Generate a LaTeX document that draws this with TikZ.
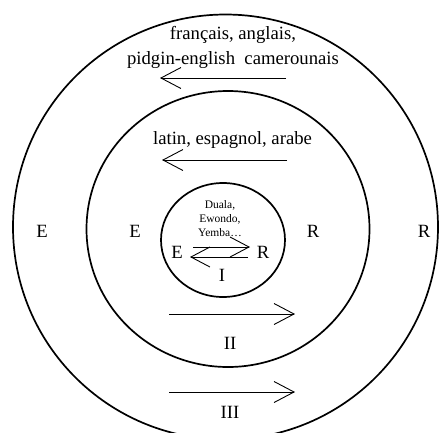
\documentclass[tikz,border=0pt]{standalone}
\usepackage{fontspec}
\setmainfont{Liberation Serif}
\usetikzlibrary{arrows.meta}

\begin{document}
\begin{tikzpicture}[
  x=1pt, y=-1pt,
  ring/.style  = {line width=1.7pt},
  lbl/.style   = {inner sep=0pt, anchor=base, align=center,
                  font=\fontsize{18.7}{24.5}\selectfont},
  lang/.style  = {inner sep=0pt, anchor=base, align=center,
                  font=\fontsize{11.5}{14}\selectfont},
  arr/.style   = {-{Straight Barb[length=20pt,width=21pt,line width=0.9pt]},
                  line width=0.9pt},
  small arr/.style = {-{Straight Barb[length=19pt,width=20pt,line width=0.9pt]},
                  line width=0.9pt}
]
\useasboundingbox (0,0) rectangle (439,432);
\clip (0,0) rectangle (439,432);
% the three rings
\draw[ring] (225.5,227) circle [radius=212.5pt];
\draw[ring] (228,229) ellipse [x radius=141.5pt, y radius=138pt];
\draw[ring] (223,240) ellipse [x radius=62pt, y radius=57pt];
% outer ring
\node[lbl] (lang3) at (233,64) {français, anglais,\\pidgin-english\ \ camerounais};
\coordinate (a3s) at (286,78);
\coordinate (a3e) at (160,78);
\draw[arr] (a3s) -- (a3e);
\node[lbl] (E3) at (42,237) {E};
\node[lbl] (R3) at (424,237) {R};
\coordinate (b3s) at (169,392);
\coordinate (b3e) at (295,392);
\draw[arr] (b3s) -- (b3e);
\node[lbl] (III) at (230,418) {III};
% middle ring
\node[lbl] (lang2) at (232.5,144) {latin, espagnol, arabe};
\coordinate (a2s) at (287,160);
\coordinate (a2e) at (162,160);
\draw[arr] (a2s) -- (a2e);
\node[lbl] (E2) at (135,237) {E};
\node[lbl] (R2) at (313,237) {R};
\coordinate (b2s) at (169,314);
\coordinate (b2e) at (295,314);
\draw[arr] (b2s) -- (b2e);
\node[lbl] (II) at (230,349) {II};
% inner ring
\node[lang] (lang1) at (220,236) {Duala,\\Ewondo,\\Yemba…};
\node[lbl] (E1) at (177,258) {E};
\node[lbl] (R1) at (263,258) {R};
\node[lbl] (I) at (222,281) {I};
\coordinate (c1s) at (193,247);
\coordinate (c1e) at (250,247);
\coordinate (d1s) at (248,257);
\coordinate (d1e) at (190,257);
\draw[small arr] (c1s) -- (c1e);
\draw[small arr] (d1s) -- (d1e);
\end{tikzpicture}
\end{document}
